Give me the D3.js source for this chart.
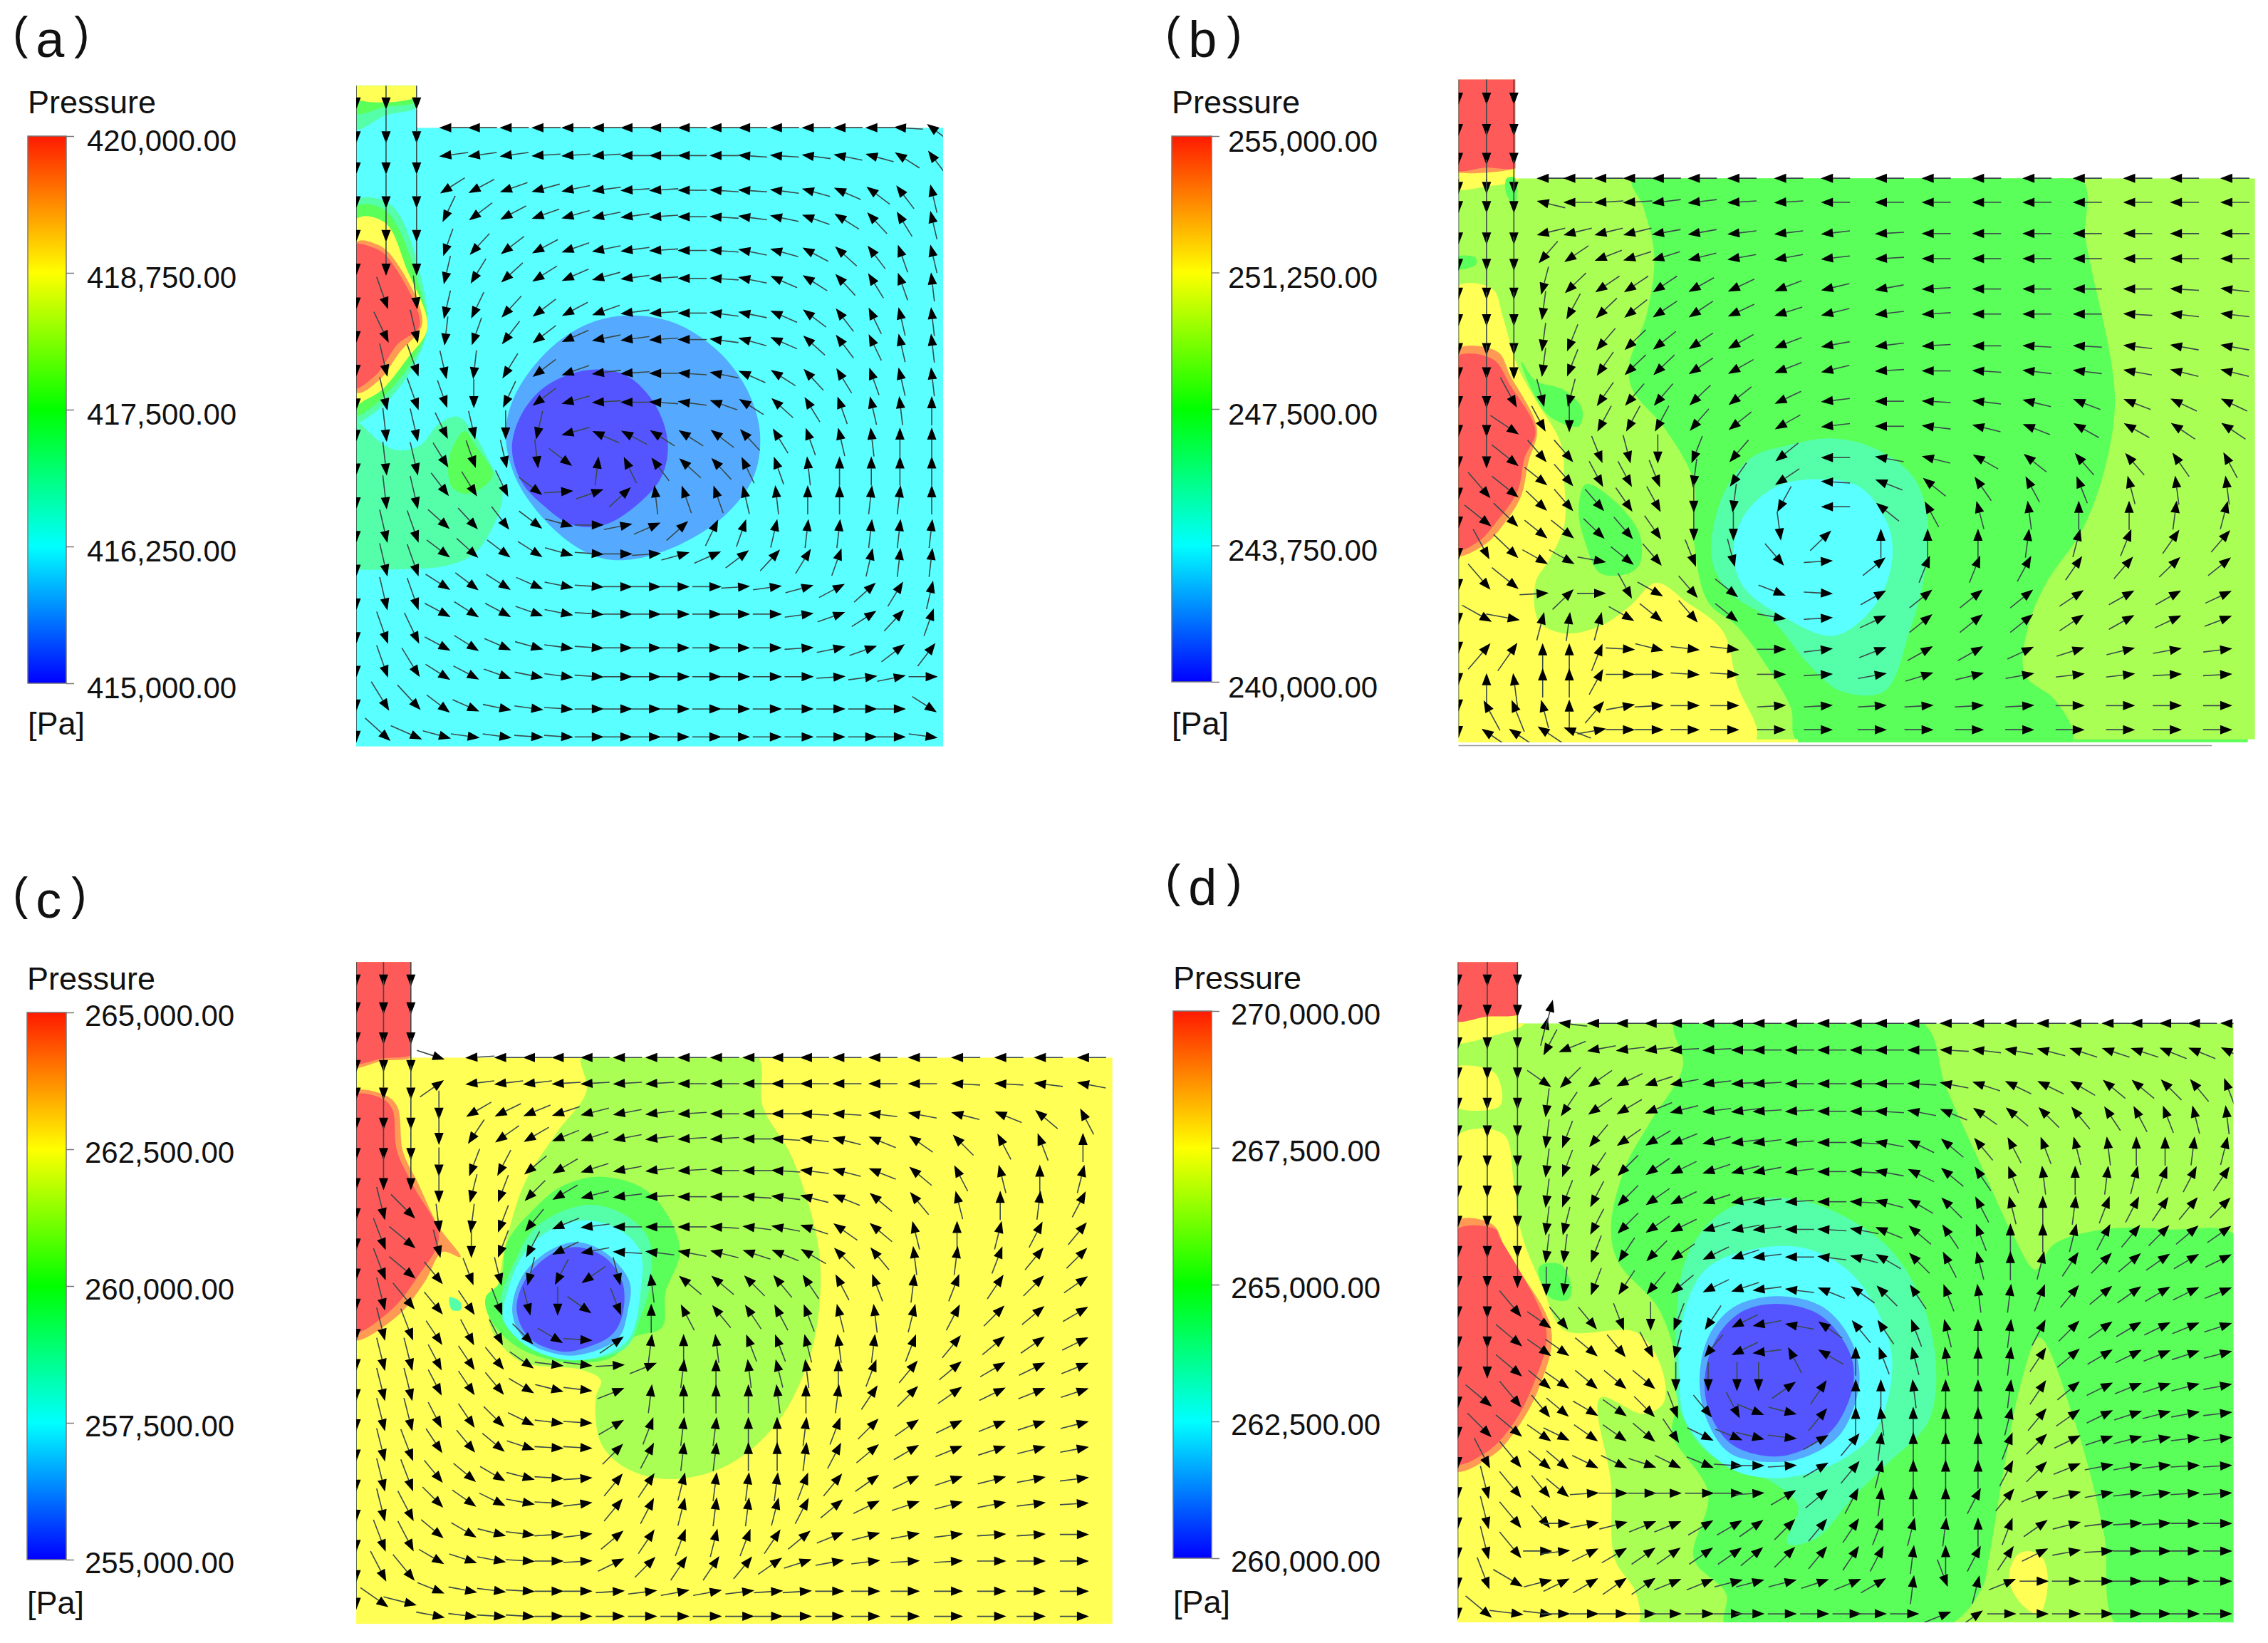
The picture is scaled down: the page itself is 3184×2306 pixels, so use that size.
<!DOCTYPE html>
<html>
<head>
<meta charset="utf-8">
<style>
  html, body { margin: 0; padding: 0; background: #fff; }
  svg { display: block; }
</style>
<script src="https://cdn.jsdelivr.net/npm/d3@7"></script>
</head>
<body>
<script>
// pressure bands, low to high
const bandNames = ['blue', 'lightblue', 'cyan', 'teal', 'green', 'lime', 'yellow', 'orange', 'red'];
const bandColors = ['#5555ff', '#55aaff', '#5affff', '#55ffaa', '#5aff5a', '#aaff55', '#ffff55', '#ff9a55', '#ff5a5a'];
const rampColors = ['#ff1a00', '#ffff00', '#00ff00', '#00ffff', '#0000ff'];

const labels = ['a', 'b', 'c', 'd'];
const ticksA = [420000, 418750, 417500, 416250, 415000];
const ticksB = [255000, 251250, 247500, 243750, 240000];
const ticksC = [265000, 262500, 260000, 257500, 255000];
const ticksD = [270000, 267500, 265000, 262500, 260000];

// outlines of each flow domain (0-1568 units across a panel crop)
const domainA = [[560,178],[655,178],[655,265],[1483,265],[1483,1550],[560,1550]];
const domainB = [[443,165],[522,165],[522,370],[1550,370],[1550,1535],[1540,1535],[1540,1541],[443,1541]];
const domainC = [[495,213],[571,213],[571,403],[1546,403],[1546,1530],[495,1530]];
const domainD = [[442,213],[525,213],[525,335],[1520,335],[1520,1527],[442,1527]];
const baseBands = ['cyan', 'lime', 'yellow', 'lime'];
// thin strip and stray line under panel b
const stripB = [['yellow', [[443,1535],[915,1535],[915,1541],[443,1541]]], ['green', [[915,1535],[1540,1535],[1540,1541],[915,1541]]]];
const rulerB = [[443,1548],[1490,1548]];

const contoursA = [
  ['teal', [[560,178],[655,178],[655,222],[605,240],[560,268]]],
  ['green', [[560,178],[655,178],[655,210],[605,222],[560,235]]],
  ['yellow', [[560,170],[655,170],[655,200],[560,204]]],
  ['teal', [[560,418],[600,415],[625,440],[655,540],[672,680],[650,760],[615,825],[585,860],[560,875]]],
  ['green', [[560,430],[600,432],[625,470],[660,600],[672,680],[650,745],[610,815],[580,850],[560,862]]],
  ['yellow', [[560,455],[605,462],[640,560],[672,680],[640,745],[600,810],[575,830],[560,838]]],
  ['orange', [[560,503],[592,507],[615,530],[664,670],[628,732],[597,788],[560,815]]],
  ['red', [[550,510],[590,516],[610,535],[660,675],[625,715],[590,780],[550,808]]],
  ['teal', [[550,870],[600,920],[625,935],[660,925],[690,880],[720,865],[745,900],[770,960],[790,1020],[780,1080],[745,1150],[700,1175],[630,1182],[560,1183],[530,1183],[530,1000]]],
  ['green', [[730,895],[750,930],[775,985],[755,1015],[730,1025],[710,1010],[705,960],[715,920]]],
  ['lightblue', [[985,655],[1060,670],[1130,730],[1175,810],[1195,900],[1185,990],[1140,1070],[1070,1130],[1000,1160],[950,1160],[900,1130],[850,1070],[810,990],[795,900],[810,820],[860,730],[920,675]]],
  ['blue', [[925,768],[985,780],[1030,840],[1050,920],[1040,990],[1000,1050],[950,1090],[900,1090],[855,1050],[820,1000],[805,930],[820,860],[860,800]]]
];
const contoursB = [
  ['yellow', [[435,340],[530,335],[530,368],[480,388],[435,390]]],
  ['orange', [[435,340],[530,333],[530,345],[435,355]]],
  ['red', [[435,160],[530,160],[530,342],[480,348],[435,350]]],
  ['green', [[685,370],[1305,365],[1315,500],[1350,750],[1355,850],[1340,980],[1310,1100],[1260,1210],[1235,1300],[1230,1400],[1270,1450],[1295,1510],[1295,1540],[915,1540],[905,1470],[870,1380],[830,1300],[790,1250],[770,1120],[770,1000],[730,890],[685,810],[680,760],[705,650],[715,530],[700,430]]],
  ['yellow', [[435,600],[490,600],[505,660],[525,760],[550,830],[585,920],[590,1000],[590,1090],[570,1160],[550,1210],[555,1290],[590,1315],[640,1300],[680,1260],[718,1210],[760,1250],[810,1310],[830,1420],[855,1540],[435,1540]]],
  ['orange', [[435,730],[497,730],[515,780],[552,890],[540,960],[530,1030],[505,1090],[480,1130],[435,1152]]],
  ['red', [[435,745],[490,745],[515,800],[550,895],[535,950],[525,1020],[495,1085],[470,1125],[435,1142]]],
  ['green', [[530,750],[550,790],[590,810],[615,850],[610,885],[570,865],[545,810]]],
  ['green', [[435,535],[467,535],[467,550],[435,558]]],
  ['green', [[510,370],[522,370],[522,425],[510,405]]],
  ['green', [[620,1005],[660,1040],[695,1110],[695,1170],[680,1190],[640,1190],[620,1130],[610,1060]]],
  ['teal', [[960,910],[1020,930],[1075,990],[1095,1080],[1090,1200],[1070,1310],[1035,1435],[975,1435],[930,1380],[880,1290],[820,1230],[795,1160],[810,1030],[850,950],[900,925]]],
  ['cyan', [[945,995],[1000,1010],[1040,1090],[1045,1170],[1020,1260],[965,1320],[900,1285],[840,1220],[825,1150],[840,1070],[885,1010]]]
];
const contoursC = [
  ['orange', [[485,205],[580,205],[580,395],[530,410],[485,420]]],
  ['red', [[485,205],[580,205],[580,390],[530,405],[485,412]]],
  ['orange', [[485,475],[535,478],[552,500],[560,590],[580,650],[610,740],[640,800],[615,790],[590,850],[550,920],[485,964]]],
  ['red', [[485,482],[530,484],[545,505],[552,590],[575,660],[610,760],[580,840],[540,910],[485,950]]],
  ['lime', [[810,395],[1050,395],[1060,500],[1100,600],[1135,760],[1140,870],[1125,1000],[1080,1130],[1010,1215],[930,1242],[870,1220],[835,1170],[828,1080],[835,1045],[810,1025],[720,1005],[680,930],[690,870],[705,760],[730,650],[775,550],[815,470]]],
  ['teal', [[625,880],[640,890],[640,905],[628,905]]],
  ['green', [[830,640],[890,660],[925,710],[945,790],[925,870],[920,940],[880,960],[850,1000],[790,1010],[720,980],[680,920],[675,880],[695,850],[705,770],[745,700],[780,660]]],
  ['teal', [[810,697],[860,710],[900,760],[905,840],[890,920],[870,980],[810,1005],[750,990],[700,930],[695,890],[715,810],[745,740]]],
  ['cyan', [[810,727],[860,745],[890,790],[890,870],[875,960],[840,995],[790,1005],[735,980],[700,925],[705,870],[725,800],[760,750]]],
  ['lightblue', [[800,770],[840,790],[875,850],[872,910],[860,960],[820,990],[780,995],[730,965],[712,910],[725,840],[760,790]]],
  ['blue', [[800,780],[840,800],[865,850],[865,915],[850,955],[815,980],[780,988],[735,960],[718,905],[730,845],[765,795]]]
];
const contoursD = [
  ['yellow', [[435,325],[535,300],[535,335],[490,360],[435,372]]],
  ['red', [[435,205],[535,205],[535,310],[480,322],[435,328]]],
  ['yellow', [[435,425],[490,430],[502,460],[500,500],[435,498]]],
  ['yellow', [[435,565],[505,555],[520,650],[530,750],[560,860],[590,945],[690,950],[725,1020],[728,1090],[700,1112],[640,1080],[655,1250],[660,1400],[690,1470],[690,1535],[435,1535]]],
  ['orange', [[435,732],[490,735],[510,790],[572,945],[555,1060],[520,1150],[490,1195],[435,1224]]],
  ['red', [[435,750],[495,745],[500,760],[565,945],[548,1050],[515,1140],[480,1190],[435,1210]]],
  ['green', [[745,330],[1085,330],[1120,460],[1170,620],[1215,760],[1245,825],[1270,775],[1340,745],[1430,745],[1530,765],[1530,1535],[1360,1535],[1340,1350],[1300,1130],[1250,960],[1225,1050],[1200,1230],[1180,1400],[1170,1460],[1120,1535],[815,1535],[815,1470],[770,1400],[790,1270],[740,1150],[750,1080],[745,1000],[720,900],[665,810],[655,740],[675,620],[710,530],[755,420]]],
  ['green', [[555,820],[585,815],[600,860],[595,885],[570,880]]],
  ['teal', [[880,682],[950,700],[1040,780],[1090,900],[1107,1030],[1095,1130],[1040,1210],[990,1280],[940,1360],[900,1370],[915,1295],[870,1240],[790,1190],[750,1100],[745,950],[760,800],[810,710]]],
  ['cyan', [[890,778],[950,795],[1000,850],[1040,960],[1045,1040],[1020,1150],[960,1215],[885,1240],[820,1220],[760,1130],[750,1050],[755,920],[790,820]]],
  ['lightblue', [[885,878],[950,900],[990,970],[1000,1050],[975,1150],[930,1195],[880,1208],[820,1190],[790,1130],[778,1050],[790,960],[825,900]]],
  ['blue', [[885,893],[945,915],[985,985],[992,1050],[965,1140],[920,1185],[880,1197],[825,1175],[795,1120],[785,1050],[800,965],[835,910]]],
  ['yellow', [[1235,1385],[1255,1400],[1262,1450],[1250,1510],[1225,1490],[1208,1440],[1218,1395]]]
];

// velocity direction in degrees as read (0 right, 90 up, 180 left, 270 down)
// cols and rows give where each arrow head sits
const colsA = [700,745,795,845,892,940,985,1030,1075,1125,1170,1220,1270,1320,1370,1415,1465];
const rowsA = [265,323,395,450,520,578,650,705,775,835,900,960,1020,1090,1150,1218,1275,1345,1405,1472,1530];
const anglesA = [
  [180,180,180,180,180,180,180,180,180,180,180,180,180,180,180,175,135],
  [190,190,190,185,185,185,180,180,180,180,175,175,170,165,160,140,120],
  [220,215,205,200,195,190,185,185,180,175,175,170,160,150,135,120,100],
  [250,225,215,205,200,195,190,185,180,175,170,165,155,140,125,115,100],
  [255,235,225,215,205,195,190,185,180,175,165,160,145,130,120,105,100],
  [260,245,230,220,210,200,190,185,180,175,165,150,140,125,115,105,95],
  [260,250,235,225,215,205,190,185,180,170,165,150,135,120,110,100,95],
  [265,255,240,225,210,195,190,185,180,170,160,150,130,120,110,100,95],
  [280,265,245,225,205,190,185,180,175,165,150,140,125,115,105,100,95],
  [285,270,250,225,200,185,180,175,170,155,140,130,115,105,100,95,90],
  [290,280,270,260,200,150,145,140,140,135,125,115,105,100,95,90,90],
  [295,285,280,275,315,85,110,120,130,125,110,105,95,90,90,90,90],
  [300,295,290,315,5,25,50,95,105,105,100,95,90,90,85,85,90],
  [310,305,300,315,340,0,15,30,50,70,75,80,85,85,85,85,85],
  [315,310,315,320,340,355,0,5,20,30,45,55,65,75,80,85,85],
  [320,315,320,330,345,355,0,0,0,0,5,10,20,35,50,65,80],
  [325,320,325,335,345,355,0,0,0,0,0,0,10,25,40,55,75],
  [325,320,330,340,350,355,0,0,0,0,0,0,5,15,25,45,60],
  [320,325,335,345,350,355,0,0,0,0,0,0,0,5,10,15,0],
  [315,330,345,350,355,0,0,0,0,0,0,0,0,0,0,0,320],
  [340,350,350,355,355,0,0,0,0,0,0,0,0,0,0,0,350]
];
const inletColsA = [560,607,655];
const inletRowsA = [215,285,350,420,490,560,630,700,770,840,905,975,1045,1115,1185,1255,1325,1395,1465,1530];
const inletAnglesA = [
  [270,270,270,270,270,270,270,270,270,270,270,270,270,270,270,270,270,270,270,270],
  [270,270,270,270,270,270,285,290,280,280,275,275,275,280,280,280,285,285,295,310],
  [270,270,270,270,270,270,275,280,285,285,280,280,280,285,285,285,290,295,305,330]
];

const colsB = [560,597,640,680,720,770,825,890,955,1030,1095,1165,1235,1305,1375,1440,1510];
const rowsB = [370,420,485,537,600,652,718,770,833,885,950,1000,1052,1110,1165,1232,1283,1348,1400,1465,1515];
const anglesB = [
  [180,180,180,180,180,180,180,180,180,180,180,180,180,180,180,180,180],
  [160,180,185,185,190,190,185,185,180,180,180,180,180,180,180,180,180],
  [200,200,200,200,195,195,190,190,190,185,180,180,180,180,180,180,180],
  [240,225,210,205,205,200,195,195,190,185,180,180,180,180,180,180,180],
  [260,235,225,225,225,220,215,210,200,195,185,180,180,180,180,175,170],
  [265,250,235,230,225,225,215,205,200,190,185,180,180,180,175,170,170],
  [265,255,240,235,230,225,220,210,195,190,185,180,175,175,170,165,165],
  [265,255,245,235,235,225,220,210,200,185,180,175,170,170,165,160,160],
  [280,260,245,240,240,235,230,215,190,180,175,170,160,150,150,145,145],
  [290,270,250,250,250,240,230,220,190,180,170,160,150,140,140,135,135],
  [300,300,285,280,270,255,240,230,180,165,160,140,130,120,120,115,110],
  [310,300,290,290,285,265,245,225,175,150,130,115,110,105,100,95,95],
  [305,300,300,295,290,270,265,250,180,130,110,100,95,90,90,85,80],
  [310,310,305,300,295,270,270,275,55,90,90,90,85,80,75,65,60],
  [320,320,345,310,300,285,280,300,5,50,75,75,70,65,60,55,50],
  [5,55,0,290,320,300,310,330,355,40,50,50,50,45,40,40,35],
  [80,85,80,320,310,300,310,345,5,35,50,50,50,45,40,35,30],
  [90,90,75,355,340,350,350,0,10,30,40,40,35,25,20,15,10],
  [90,90,70,0,0,355,355,0,5,15,25,20,15,10,10,5,5],
  [100,90,60,15,5,0,0,5,5,5,5,5,5,0,0,0,0],
  [135,150,15,0,0,0,0,0,0,0,0,0,0,0,0,0,0]
];
const inletColsB = [443,482,520];
const inletRowsB = [205,270,330,390,430,495,550,610,665,725,775,835,895,960,1025,1085,1150,1215,1285,1345,1410,1465,1520];
const inletAnglesB = [
  [270,270,270,270,270,270,270,270,270,270,270,270,270,270,270,270,270,270,270,270,270,270,270],
  [270,270,270,270,270,270,270,270,270,270,270,270,270,270,300,310,290,300,320,60,90,110,135],
  [270,270,270,270,270,270,270,270,270,270,270,290,315,310,310,305,305,310,345,65,95,105,135]
];

const colsC = [610,655,695,735,775,815,860,905,950,995,1040,1080,1120,1165,1215,1270,1330,1390,1445,1505];
const rowsC = [403,455,515,565,628,680,740,790,845,905,965,1015,1065,1130,1180,1240,1290,1352,1405,1465,1515];
const anglesC = [
  [335,185,180,180,180,180,180,180,180,180,180,180,180,180,180,180,180,180,180,180],
  [45,190,190,190,185,185,185,185,180,180,180,180,180,180,180,180,175,175,170,165],
  [270,220,215,210,205,200,195,190,185,180,180,180,175,175,170,165,160,150,130,110],
  [270,245,225,220,210,205,195,190,185,185,180,175,170,160,150,135,125,110,105,90],
  [270,255,250,230,220,205,195,190,185,180,180,175,170,160,150,130,110,100,90,80],
  [270,260,255,235,220,200,190,185,180,180,175,170,160,150,130,120,100,90,85,70],
  [275,265,255,240,210,190,180,180,180,175,170,165,155,135,130,100,90,80,70,60],
  [280,270,255,250,215,195,175,170,165,160,155,150,140,125,120,95,85,75,60,55],
  [300,285,280,260,250,225,280,95,130,130,125,120,115,110,105,85,75,65,55,45],
  [300,295,285,280,270,315,285,90,110,120,115,110,105,100,95,80,70,55,50,40],
  [295,290,290,305,320,355,45,85,90,95,105,105,100,95,85,75,60,50,45,35],
  [290,295,300,315,350,350,5,30,85,90,95,100,95,90,75,60,50,40,35,30],
  [290,295,300,320,340,350,30,85,90,90,90,95,90,85,65,55,45,35,30,25],
  [290,295,305,325,350,355,40,75,85,85,90,90,85,75,55,45,35,30,25,20],
  [295,300,310,335,355,355,55,70,85,85,90,90,85,70,50,40,30,25,20,15],
  [300,310,320,340,355,5,60,65,80,85,85,85,75,60,45,35,25,20,15,10],
  [305,315,325,345,355,10,60,70,80,85,85,80,70,50,35,25,20,15,10,5],
  [310,320,340,350,5,10,50,65,75,80,75,65,50,30,20,15,10,5,5,0],
  [320,335,345,355,0,5,35,55,65,65,60,45,25,15,10,5,5,0,0,0],
  [330,345,350,355,0,0,5,10,15,15,10,5,5,0,0,0,0,0,0,0],
  [345,350,355,355,0,0,0,0,0,0,0,0,0,0,0,0,0,0,0,0]
];
const inletColsC = [495,533,571];
const inletRowsC = [250,305,365,420,475,535,595,655,715,775,835,895,955,1015,1075,1135,1195,1255,1315,1375,1435,1490];
const inletAnglesC = [
  [270,270,270,270,270,270,270,270,270,270,270,270,270,270,270,270,270,270,270,270,270,270],
  [270,270,270,270,270,270,270,270,280,285,285,280,280,280,280,280,280,280,280,285,290,315],
  [270,270,270,270,270,270,270,270,305,310,310,300,285,280,280,280,285,285,290,290,300,340]
];

const colsD = [565,590,630,670,710,745,790,830,860,905,950,995,1030,1075,1120,1165,1210,1255,1300,1345,1385,1425,1465,1510];
const rowsD = [335,388,455,510,572,630,690,745,800,865,935,990,1055,1110,1160,1215,1270,1330,1385,1445,1510];
const anglesD = [
  [80,170,180,180,180,180,180,180,180,180,180,180,180,180,180,180,180,180,180,180,180,180,180,178],
  [250,210,195,190,190,185,185,180,180,180,180,180,180,180,175,170,165,160,155,155,155,150,150,145],
  [315,235,225,215,205,195,190,185,185,180,180,180,180,175,165,155,145,145,140,130,130,125,120,105],
  [265,245,225,220,210,200,190,190,185,185,180,180,175,165,150,135,130,125,120,115,110,105,100,95],
  [265,255,240,225,220,210,200,190,190,185,180,175,165,145,130,120,110,105,100,95,90,90,85,80],
  [265,255,245,235,225,215,205,200,195,190,180,175,165,145,130,115,105,95,90,85,80,75,70,65],
  [265,255,250,235,225,215,205,195,190,185,180,175,160,140,125,110,100,90,85,75,70,65,60,55],
  [265,260,250,235,225,215,205,195,190,180,175,165,150,130,115,105,90,90,80,70,60,55,50,45],
  [265,265,255,245,235,225,215,205,190,180,170,160,140,125,110,100,90,80,65,55,50,45,40,35],
  [270,265,255,245,240,230,215,205,190,170,150,135,125,115,105,95,85,75,60,50,45,40,35,30],
  [315,300,300,285,270,255,245,215,195,165,135,120,115,105,100,90,85,70,55,45,40,35,30,25],
  [315,315,310,300,290,260,240,215,190,110,140,90,105,100,95,90,85,65,50,40,35,30,25,20],
  [310,315,310,310,310,270,270,270,270,45,65,90,90,95,90,90,85,65,50,35,30,25,20,15],
  [300,310,320,315,305,285,300,290,330,340,60,90,95,90,90,90,80,60,45,35,25,20,15,10],
  [315,325,315,315,310,295,325,330,340,350,40,60,85,90,90,90,75,55,35,25,20,15,10,10],
  [310,310,325,325,335,325,330,355,0,5,40,60,80,90,90,90,70,55,30,15,15,10,5,5],
  [300,310,5,0,0,0,0,0,5,40,50,70,85,90,90,70,60,30,20,15,10,10,5,5],
  [300,0,15,20,30,30,40,40,45,55,60,65,75,80,85,90,75,45,20,10,5,5,0,0],
  [0,10,35,40,45,45,45,45,50,55,60,65,70,85,90,70,65,35,15,5,0,0,0,0],
  [20,35,40,45,45,30,30,20,20,20,25,30,40,85,285,80,30,0,0,0,0,0,0,0],
  [350,0,0,0,0,0,0,0,0,0,0,0,0,0,30,45,0,0,0,0,0,0,0,0]
];
const inletColsD = [442,483,525];
const inletRowsD = [250,310,375,435,495,550,610,670,730,790,850,910,970,1030,1090,1150,1210,1270,1330,1390,1450,1510];
const inletAnglesD = [
  [270,270,270,270,270,270,270,270,270,270,270,270,270,270,270,270,270,270,270,270,270,270],
  [270,270,270,270,270,270,270,270,270,270,270,270,270,270,310,305,290,280,280,280,285,310],
  [270,270,270,270,270,270,270,270,270,270,270,300,310,310,300,310,300,300,300,300,320,350]
];

const width = 3184, height = 2306;
const ramp = d3.scaleLinear().domain([0, .25, .5, .75, 1]).range(rampColors);
const bandColor = d3.scaleOrdinal().domain(bandNames).range(bandColors);

const panels = [
  { label: labels[0], crop: [0, 0, 1400, 1060], labelAt: [18, 80], ticks: ticksA, bar: [39, 93, 191, 959], pad: 18, dy: 20, unitY: [159, 1031],
    domain: domainA, base: baseBands[0], contours: contoursA, cols: colsA, rows: rowsA, angles: anglesA,
    inletCols: inletColsA, inletRows: inletRowsA, inletAngles: inletAnglesA },
  { label: labels[1], crop: [1600, 0, 1584, 1060], labelAt: [1636, 80], ticks: ticksB, bar: [1645, 1701, 191, 957], pad: 12, dy: 21, unitY: [159, 1031],
    domain: domainB, base: baseBands[1], contours: contoursB, cols: colsB, rows: rowsB, angles: anglesB,
    inletCols: inletColsB, inletRows: inletRowsB, inletAngles: inletAnglesB, strip: stripB, ruler: rulerB },
  { label: labels[2], crop: [0, 1200, 1584, 1106], labelAt: [18, 1288], ticks: ticksC, bar: [38, 93, 1421, 2189], pad: 15, dy: 18, unitY: [1389, 2265],
    domain: domainC, base: baseBands[2], contours: contoursC, cols: colsC, rows: rowsC, angles: anglesC,
    inletCols: inletColsC, inletRows: inletRowsC, inletAngles: inletAnglesC },
  { label: labels[3], crop: [1600, 1200, 1584, 1106], labelAt: [1636, 1270], ticks: ticksD, bar: [1647, 1701, 1419, 2187], pad: 16, dy: 18, unitY: [1388, 2264],
    domain: domainD, base: baseBands[3], contours: contoursD, cols: colsD, rows: rowsD, angles: anglesD,
    inletCols: inletColsD, inletRows: inletRowsD, inletAngles: inletAnglesD, extra: [[572, 300, 80]] }
];

const svg = d3.select('body').append('svg')
  .attr('width', width)
  .attr('height', height)
  .attr('viewBox', `0 0 ${width} ${height}`)
  .style('font-family', '"Liberation Sans", Arial, sans-serif');

const defs = svg.append('defs');
const grad = defs.append('linearGradient')
  .attr('id', 'pressure-ramp')
  .attr('x1', 0).attr('x2', 0).attr('y1', 0).attr('y2', 1);
grad.selectAll('stop')
  .data(ramp.domain())
  .join('stop')
  .attr('offset', d => d)
  .attr('stop-color', d => ramp(d));

function drawArrow(g, x, y, deg, sx, sy, len) {
  const a = deg * Math.PI / 180;
  // angles were read on the stretched crop, so go back through the crop's scale factors
  let ux = Math.cos(a) * sx, uy = -Math.sin(a) * sy;
  const n = Math.hypot(ux, uy);
  ux /= n; uy /= n;
  const headLen = 17, headW = 6.5;
  // x,y is the middle of the head
  const tipX = x + ux * headLen * .5, tipY = y + uy * headLen * .5;
  const tailX = tipX - ux * len, tailY = tipY - uy * len;
  const baseX = tipX - ux * headLen, baseY = tipY - uy * headLen;
  const p = d3.path();
  p.moveTo(baseX - uy * headW, baseY + ux * headW);
  p.lineTo(tipX, tipY);
  p.lineTo(baseX + uy * headW, baseY - ux * headW);
  p.closePath();
  g.append('line')
    .attr('x1', tailX).attr('y1', tailY).attr('x2', baseX).attr('y2', baseY)
    .attr('stroke', '#3a4a4a').attr('stroke-width', 1.6);
  g.append('path').attr('d', p.toString()).attr('fill', '#000');
}

panels.forEach((panel, i) => {
  const [cx, cy, cw, ch] = panel.crop;
  const x = d3.scaleLinear().domain([0, 1568]).range([cx, cx + cw]);
  const y = d3.scaleLinear().domain([0, 1568]).range([cy, cy + ch]);
  const sx = cw / 1568, sy = ch / 1568;

  const g = svg.append('g').attr('class', `panel-${panel.label}`);

  // (a) label, brackets are smaller and sit higher than the letter
  const tag = g.append('text')
    .attr('x', panel.labelAt[0])
    .attr('y', panel.labelAt[1] - 11)
    .attr('fill', '#111');
  tag.append('tspan').attr('font-size', 64).text('(');
  tag.append('tspan').attr('font-size', 72).attr('dx', 11).attr('dy', 11).text(panel.label);
  tag.append('tspan').attr('font-size', 64).attr('dx', 14).attr('dy', -11).text(')');

  // legend
  const [bx0, bx1, by0, by1] = panel.bar;
  g.append('rect')
    .attr('x', bx0).attr('y', by0)
    .attr('width', bx1 - bx0).attr('height', by1 - by0)
    .attr('fill', 'url(#pressure-ramp)')
    .attr('stroke', '#777').attr('stroke-width', 1.5);
  const legendY = d3.scaleLinear().domain(d3.extent(panel.ticks).reverse()).range([by0, by1]);
  const axis = d3.axisRight(legendY)
    .tickValues(panel.ticks)
    .tickSize(11)
    .tickPadding(panel.pad)
    .tickFormat(d3.format(',.2f'));
  g.append('g')
    .attr('transform', `translate(${bx1},0)`)
    .call(axis)
    .call(s => s.select('.domain').remove())
    .call(s => s.selectAll('.tick line').attr('stroke', '#777').attr('stroke-width', 1.5))
    .call(s => s.selectAll('.tick text')
      .attr('font-family', '"Liberation Sans", Arial, sans-serif')
      .attr('font-size', 42).attr('fill', '#111').attr('dy', panel.dy));
  g.append('text').attr('x', bx0).attr('y', panel.unitY[0])
    .attr('font-size', 45).attr('fill', '#111').text('Pressure');
  g.append('text').attr('x', bx0).attr('y', panel.unitY[1])
    .attr('font-size', 45).attr('fill', '#111').text('[Pa]');

  // contour field
  const clipId = `clip-${panel.label}`;
  const line = d3.line().x(d => x(d[0])).y(d => y(d[1]));
  defs.append('clipPath').attr('id', clipId).append('path')
    .attr('d', line(panel.domain) + 'Z');
  const smooth = d3.line().x(d => x(d[0])).y(d => y(d[1])).curve(d3.curveCatmullRomClosed.alpha(.5));
  const field = g.append('g').attr('clip-path', `url(#${clipId})`);
  field.append('path').attr('d', line(panel.domain) + 'Z').attr('fill', bandColor(panel.base));
  field.selectAll('path.band')
    .data(panel.contours)
    .join('path')
    .attr('class', 'band')
    .attr('d', d => smooth(d[1]))
    .attr('fill', d => bandColor(d[0]));
  (panel.strip || []).forEach(s => {
    field.append('path').attr('d', line(s[1]) + 'Z').attr('fill', bandColor(s[0]));
  });
  if (panel.ruler) {
    g.append('path').attr('d', line(panel.ruler))
      .attr('fill', 'none').attr('stroke', '#999').attr('stroke-width', 1.5);
  }

  // vectors, cut to the domain's bounding box
  const xs = d3.extent(panel.domain, d => d[0]), ys = d3.extent(panel.domain, d => d[1]);
  defs.append('clipPath').attr('id', `${clipId}-v`).append('rect')
    .attr('x', x(xs[0])).attr('y', y(ys[0]))
    .attr('width', x(xs[1]) - x(xs[0])).attr('height', y(ys[1]) - y(ys[0]));
  const vec = g.append('g').attr('clip-path', `url(#${clipId}-v)`);
  panel.inletCols.forEach((c, ci) => {
    panel.inletRows.forEach((r, ri) => {
      drawArrow(vec, x(c), y(r), panel.inletAngles[ci][ri], sx, sy, 48);
    });
  });
  panel.rows.forEach((r, ri) => {
    panel.cols.forEach((c, ci) => {
      drawArrow(vec, x(c), y(r), panel.angles[ri][ci], sx, sy, 41);
    });
  });
  (panel.extra || []).forEach(e => drawArrow(vec, x(e[0]), y(e[1]), e[2], sx, sy, 42));
});
</script>
</body>
</html>
